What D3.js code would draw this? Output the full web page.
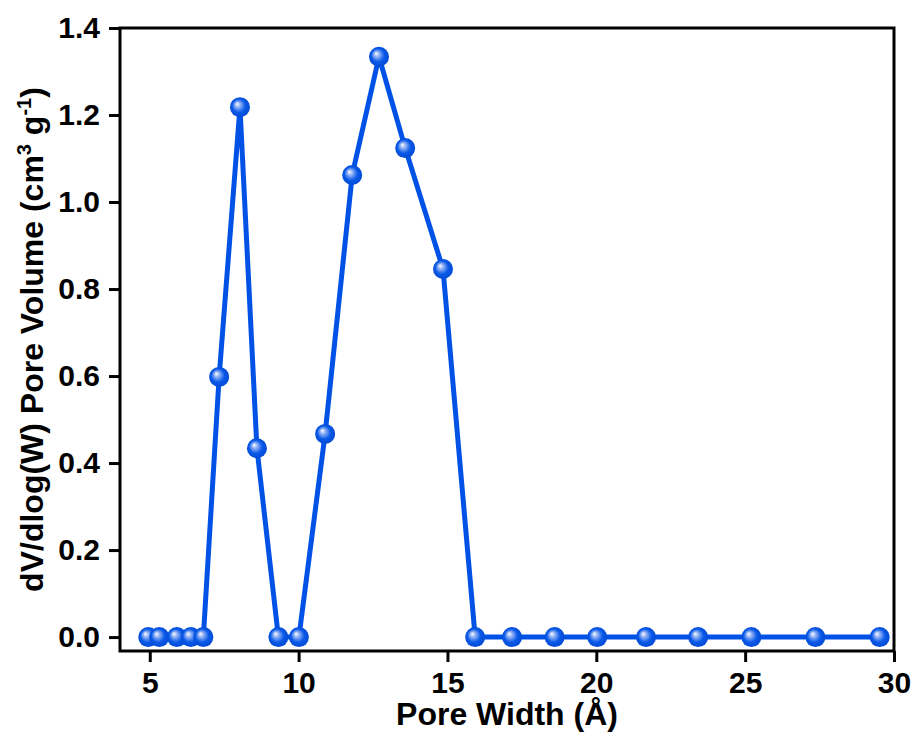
<!DOCTYPE html>
<html><head><meta charset="utf-8">
<script src="https://cdn.jsdelivr.net/npm/d3@7"></script>
<style>body{margin:0;background:#fff}svg{display:block}</style>
</head><body>
<script>
const poreWidth = [4.95,5.32,5.91,6.38,6.80,7.33,8.03,8.60,9.32,10.01,10.89,11.80,12.70,13.58,14.85,15.93,17.17,18.60,20.03,21.67,23.42,25.21,27.36,29.52];
const poreVolume = [0,0,0,0,0,0.598,1.218,0.434,0,0,0.467,1.062,1.334,1.124,0.846,0,0,0,0,0,0,0,0,0];
const xTicks = [5,10,15,20,25,30];
const yTicks = [0,0.2,0.4,0.6,0.8,1.0,1.2,1.4];

const W=917,H=744;
const m={l:120,r:23,t:28,b:93};
const svg=d3.select("body").append("svg").attr("width",W).attr("height",H);
const defs=svg.append("defs");
const g=defs.append("radialGradient").attr("id","ball").attr("cx","0.5").attr("cy","0.5").attr("r","0.55").attr("fx","0.35").attr("fy","0.33");
g.append("stop").attr("offset","0").attr("stop-color","#ffffff");
g.append("stop").attr("offset","0.25").attr("stop-color","#8fb0f5");
g.append("stop").attr("offset","0.6").attr("stop-color","#0a5ae8");
g.append("stop").attr("offset","1").attr("stop-color","#0046d0");

const x=d3.scaleLinear().domain([4,30]).range([m.l,W-m.r]);
const y=d3.scaleLinear().domain([-0.032,1.4]).range([H-m.b,m.t]);
const font="'Liberation Sans', Arial, sans-serif";

const data=poreWidth.map((d,i)=>[d,poreVolume[i]]);
svg.append("path").datum(data).attr("fill","none").attr("stroke","#0052e6").attr("stroke-width",5).attr("stroke-linejoin","round")
  .attr("d",d3.line().x(d=>x(d[0])).y(d=>y(d[1])));
svg.selectAll("circle.pt").data(data).enter().append("circle").attr("class","pt")
  .attr("cx",d=>x(d[0])).attr("cy",d=>y(d[1])).attr("r",10).attr("fill","url(#ball)");

const xa=svg.append("g").attr("transform",`translate(0,${H-m.b})`)
  .call(d3.axisBottom(x).tickValues(xTicks).tickSize(11).tickSizeOuter(0).tickPadding(10).tickFormat(d3.format("d")));
const ya=svg.append("g").attr("transform",`translate(${m.l},0)`)
  .call(d3.axisLeft(y).tickValues(yTicks).tickSize(11).tickSizeOuter(0).tickPadding(9).tickFormat(d3.format(".1f")));
[xa,ya].forEach(a=>{
  a.select(".domain").remove();
  a.selectAll("line").attr("stroke","#000").attr("stroke-width",3);
  a.selectAll("text").attr("font-family",font).attr("font-weight","bold").attr("font-size",30).attr("fill","#000");
});
svg.append("rect").attr("x",m.l).attr("y",m.t).attr("width",W-m.l-m.r).attr("height",H-m.t-m.b)
  .attr("fill","none").attr("stroke","#000").attr("stroke-width",3);

svg.append("text").attr("x",(m.l+W-m.r)/2).attr("y",725).attr("text-anchor","middle")
  .attr("font-family",font).attr("font-weight","bold").attr("font-size",32).text("Pore Width (Å)");
const yt=svg.append("text").attr("transform",`translate(43,${(m.t+H-m.b)/2}) rotate(-90)`).attr("text-anchor","middle")
  .attr("font-family",font).attr("font-weight","bold").attr("font-size",32);
yt.append("tspan").text("dV/dlog(W) Pore Volume (cm");
yt.append("tspan").attr("font-size",20).attr("dy",-12).text("3");
yt.append("tspan").attr("dy",12).text(" g");
yt.append("tspan").attr("font-size",20).attr("dy",-12).text("-1");
yt.append("tspan").attr("dy",12).text(")");
</script>
</body></html>
